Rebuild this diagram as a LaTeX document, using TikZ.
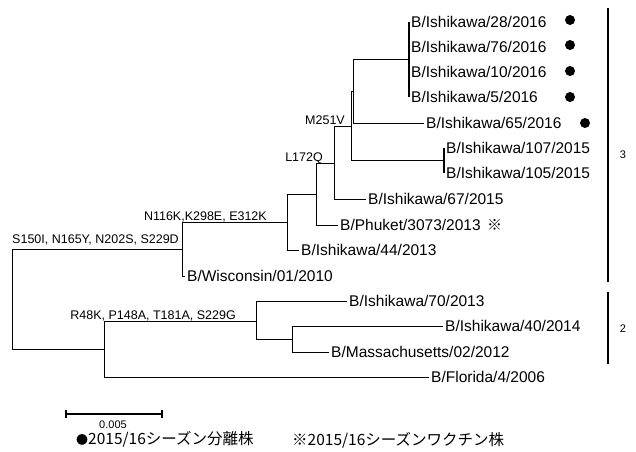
\documentclass[tikz,border=0pt]{standalone}
\usepackage{fontspec}
\setmainfont{Liberation Sans}
\newfontfamily\jpfont{Noto Sans CJK JP}
\usepackage{tikz}
\usetikzlibrary{positioning}

\tikzset{
    leaf/.style={anchor=west, inner xsep=2pt, inner ysep=0pt, font=\fontsize{15.5}{18}\selectfont},
    mut/.style={anchor=base east, inner sep=0pt, font=\fontsize{12.5}{14}\selectfont},
    branch/.style={line width=0.9pt},
    twig/.style={line width=2.2pt},
    clade/.style={line width=2.4pt},
    sample/.style={circle, fill=black, minimum size=10pt, inner sep=0pt},
    legend/.style={anchor=west, inner sep=0pt, font=\jpfont\fontsize{15.5}{18}\selectfont},
}

\begin{document}
\begin{tikzpicture}[x=1pt, y=-1pt]
        \useasboundingbox (0,0) rectangle (636,451);

        % internal nodes of the tree
        \coordinate (root) at (12,299);
        \coordinate (nA) at (182,249);
        \coordinate (nB) at (104,349);
        \coordinate (nC) at (256,321);
        \coordinate (nD) at (292,339);
        \coordinate (nE) at (287,222);
        \coordinate (nF) at (316,194);
        \coordinate (nG) at (334,163);
        \coordinate (nH) at (351,126);
        \coordinate (nH2) at (353,91);
        \coordinate (nI) at (409,59.5);
        \coordinate (nJ) at (444,160.5);

        % strains
        \node[leaf] (i28) at (409,22) {B/Ishikawa/28/2016};
        \node[leaf] (i76) at (409,47) {B/Ishikawa/76/2016};
        \node[leaf] (i10) at (409,72) {B/Ishikawa/10/2016};
        \node[leaf] (i5) at (409,97) {B/Ishikawa/5/2016};
        \node[leaf] (i65) at (424,123) {B/Ishikawa/65/2016};
        \node[leaf] (i107) at (444,148) {B/Ishikawa/107/2015};
        \node[leaf] (i105) at (444,173) {B/Ishikawa/105/2015};
        \node[leaf] (i67) at (366,199) {B/Ishikawa/67/2015};
        \node[leaf] (phuket) at (338,225) {B/Phuket/3073/2013};
        \node[leaf] (i44) at (299,250) {B/Ishikawa/44/2013};
        \node[leaf] (wis) at (185,276) {B/Wisconsin/01/2010};
        \node[leaf] (i70) at (347,301) {B/Ishikawa/70/2013};
        \node[leaf] (i40) at (443,326) {B/Ishikawa/40/2014};
        \node[leaf] (mass) at (329,352) {B/Massachusetts/02/2012};
        \node[leaf] (flo) at (429,377) {B/Florida/4/2006};

        \node[right=4pt of phuket, inner sep=0pt, font=\jpfont\fontsize{15}{18}\selectfont] (vac) {※};

        % 2015/16 isolates
        \node[sample] (d28) at (570,20) {};
        \node[sample] (d76) at (570,45) {};
        \node[sample] (d10) at (570,71) {};
        \node[sample] (d5) at (570,97) {};
        \node[sample] (d65) at (585,123) {};

        % branches
        \draw[branch] (root) |- (nA);
        \draw[branch] (root) |- (nB);
        \draw[branch] (nA) |- (nE);
        \draw[branch] (nA) |- (wis.west);
        \draw[branch] (nB) |- (nC);
        \draw[branch] (nB) |- (flo.west);
        \draw[branch] (nC) |- (i70.west);
        \draw[branch] (nC) |- (nD);
        \draw[branch] (nD) |- (i40.west);
        \draw[branch] (nD) |- (mass.west);
        \draw[branch] (nE) |- (nF);
        \draw[branch] (nE) |- (i44.west);
        \draw[branch] (nF) |- (nG);
        \draw[branch] (nF) |- (phuket.west);
        \draw[branch] (nG) |- (nH);
        \draw[branch] (nG) |- (i67.west);
        \draw[branch] (nH) |- (nH2);
        \draw[branch] (nH) |- (nJ);
        \draw[branch] (nH2) |- (nI);
        \draw[branch] (nH2) |- (i65.west);
        \draw[twig] (nI) |- (i28.west);
        \draw[twig] (nI) |- (i5.west);
        \draw[twig] (nJ) |- (i107.west);
        \draw[twig] (nJ) |- (i105.west);

        % amino acid substitutions
        \node[mut] (m1) at (179,243) {S150I, N165Y, N202S, S229D};
        \node[mut] (m2) at (267,220) {N116K,K298E, E312K};
        \node[mut] (m3) at (236,319) {R48K, P148A, T181A, S229G};
        \node[mut] (m4) at (323,161.5) {L172Q};
        \node[mut] (m5) at (345,124) {M251V};

        % clades
        \coordinate (c3top) at (608,8);
        \coordinate (c3bot) at (608,282);
        \coordinate (c2top) at (608,292);
        \coordinate (c2bot) at (608,364);
        \draw[clade] (c3top) -- (c3bot);
        \draw[clade] (c2top) -- (c2bot);
        \node[font=\fontsize{11}{13}\selectfont] (lab3) at (623,155) {3};
        \node[font=\fontsize{11}{13}\selectfont] (lab2) at (623,329) {2};

        % scale
        \coordinate (sbL) at (66,414);
        \coordinate (sbR) at (162,414);
        \draw[line width=1.6pt] (sbL) -- (sbR);
        \draw[line width=1.6pt] ([yshift=-4]sbL) -- ([yshift=4]sbL);
        \draw[line width=1.6pt] ([yshift=-4]sbR) -- ([yshift=4]sbR);
        \node[font=\fontsize{11}{13}\selectfont] (sblab) at (113,425) {0.005};

        % legend
        \node[legend] (leg1) at (76,439) {{\fontsize{12}{14}\selectfont ●}2015/16シーズン分離株};
        \node[legend] (leg2) at (292,440) {※2015/16シーズンワクチン株};
\end{tikzpicture}
\end{document}
